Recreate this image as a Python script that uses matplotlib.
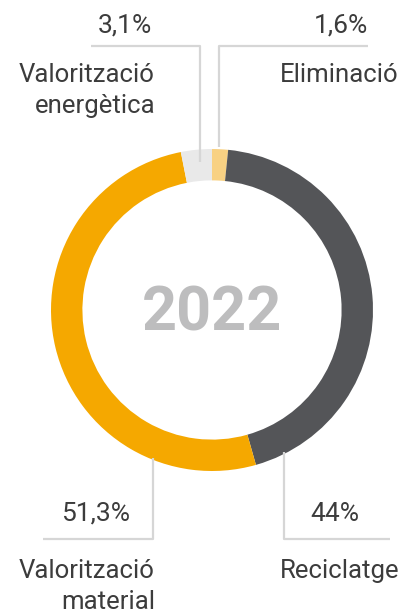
import matplotlib
matplotlib.use("Agg")
import matplotlib.pyplot as plt

# data (clockwise from 12 o'clock)
labels = ["Eliminació", "Reciclatge", "Valorització\nmaterial", "Valorització\nenergètica"]
values = [1.6, 44, 51.3, 3.1]
pct_text = ["1,6%", "44%", "51,3%", "3,1%"]
colors = ["#f8d183", "#545558", "#f5a800", "#e9e9e9"]
year = "2022"

W, H = 407, 614
TXT = "#3c3c3c"
LINE = "#d6d6d6"
FONT = ["Roboto", "DejaVu Sans"]

fig = plt.figure(figsize=(W / 100, H / 100), dpi=100)

# donut: centre (212, 310) px, outer radius 161 px
cx, cy, R = 212, 310, 161
ax = fig.add_axes([(cx - R) / W, (H - cy - R) / H, 2 * R / W, 2 * R / H])
ax.pie(values, colors=colors, startangle=90, counterclock=False,
       radius=1, wedgeprops=dict(width=0.195, linewidth=0))
ax.set_xlim(-1, 1)
ax.set_ylim(-1, 1)
ax.set_aspect("equal")
ax.axis("off")
ax.text(0, -0.02, year, ha="center", va="center", fontsize=44,
        color="#bdbdbe", fontweight="bold", family=FONT)

# overlay in pixel coordinates for labels and leader lines
ov = fig.add_axes([0, 0, 1, 1], zorder=5)
ov.set_xlim(0, W)
ov.set_ylim(H, 0)
ov.axis("off")
ov.patch.set_alpha(0)

lw = 1.6
# leader lines
ov.plot([91, 200, 200], [46, 46, 162], color=LINE, lw=lw, solid_capstyle="butt")
ov.plot([368, 219, 219], [46, 46, 147], color=LINE, lw=lw, solid_capstyle="butt")
ov.plot([43, 153, 153], [539, 539, 458], color=LINE, lw=lw, solid_capstyle="butt")
ov.plot([390, 284, 284], [539, 539, 452], color=LINE, lw=lw, solid_capstyle="butt")

kw = dict(color=TXT, family=FONT, fontweight="normal", ha="right", va="baseline")
pct_size = 19
lab_size = 18.5

# percentages
ov.text(368, 32, pct_text[0], fontsize=pct_size, **kw)
ov.text(359, 521, pct_text[1], fontsize=pct_size, **kw)
ov.text(130, 521, pct_text[2], fontsize=pct_size, **kw)
ov.text(152, 32, pct_text[3], fontsize=pct_size, **kw)

# category labels, one line at a time
spots = [(398, 82), (400, 578), (155, 578), (155, 82)]
for lab, (x, y) in zip(labels, spots):
    for i, line in enumerate(lab.split("\n")):
        ov.text(x, y + 31 * i, line, fontsize=lab_size, **kw)

fig.savefig("out.png", dpi=100)
